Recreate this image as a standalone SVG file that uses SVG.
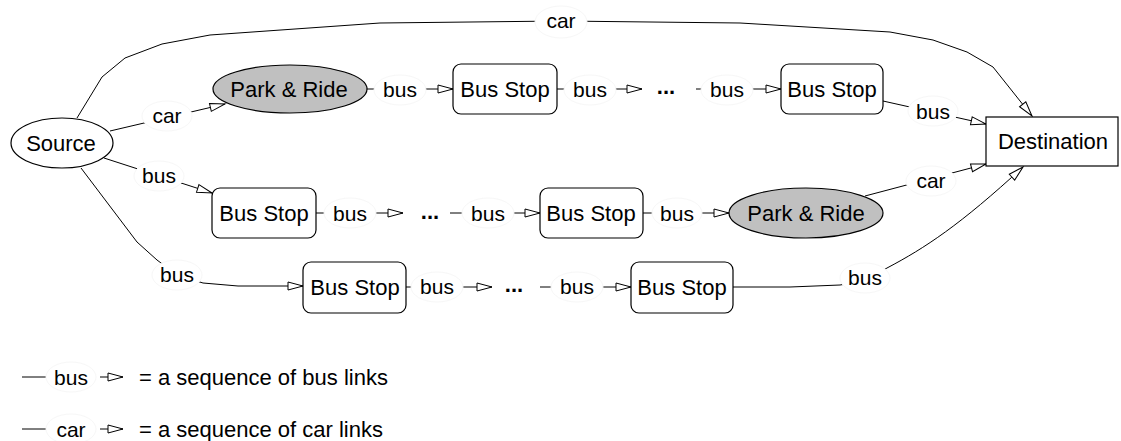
<svg xmlns="http://www.w3.org/2000/svg" width="1121" height="441" viewBox="0 0 1121 441">
<style>
  text { font-family: "Liberation Sans", Arial, sans-serif; fill: #000; }
  .nt { font-size: 22px; text-anchor: middle; }
  .lt { font-size: 21px; text-anchor: middle; }
  .dots { font-size: 22px; font-weight: bold; text-anchor: middle; }
  .leg { font-size: 22px; }
  .node { fill: #fff; stroke: #000; stroke-width: 1.2; }
  .pr { fill: #c0c0c0; stroke: #000; stroke-width: 1.2; }
  .edge { fill: none; stroke: #000; stroke-width: 1; marker-end: url(#arr); }
  .plain { fill: none; stroke: #000; stroke-width: 1; }
  .lbg { fill: #fff; stroke: #f7f7f7; stroke-width: 1; }
</style>
<defs>
  <marker id="arr" markerUnits="userSpaceOnUse" markerWidth="18" markerHeight="12" refX="15" refY="4.5" orient="auto" overflow="visible">
    <path d="M0,0.5 L15,4.5 L0,8.5 Z" fill="#fff" stroke="#000" stroke-width="1"/>
  </marker>
</defs>
<rect width="1121" height="441" fill="#fff"/>

<g id="connectors">
  <path class="edge" d="M77,118 L102,77 L125,58 L162,44 L210,35 L380,23 L561,21 L740,23 L890,32 L933,40 L967,52 L993,67 L1032,116"/>
  <path class="edge" d="M110,131 L225,104"/>
  <path class="edge" d="M367,89 L453,89"/>
  <path class="edge" d="M557,89 L642,89"/>
  <path class="edge" d="M696,89 L781,89"/>
  <path class="edge" d="M883,101 L986,124"/>
  <path class="edge" d="M104,158 L212,193"/>
  <path class="edge" d="M316,213 L403,213"/>
  <path class="edge" d="M450,213 L540,213"/>
  <path class="edge" d="M643,213 L729,213"/>
  <path class="edge" d="M865,196 L986,164"/>
  <path class="edge" d="M81,168 L137,242 L157,260 L177,275 L203,283 L238,286 L303,286"/>
  <path class="edge" d="M406,287 L492,287"/>
  <path class="edge" d="M540,287 L631,287"/>
  <path class="edge" d="M733,287 L790,287 L840,285 L865,281 L887,268 C925,248 960,225 1023,167"/>

  <g id="edge-labels">
    <ellipse class="lbg" cx="561" cy="22" rx="26" ry="16"/><text class="lt" x="561" y="28">car</text>
    <ellipse class="lbg" cx="167" cy="116" rx="25" ry="15"/><text class="lt" x="167" y="123">car</text>
    <ellipse class="lbg" cx="400" cy="90" rx="26" ry="15"/><text class="lt" x="400" y="97">bus</text>
    <ellipse class="lbg" cx="590" cy="90" rx="26" ry="15"/><text class="lt" x="590" y="97">bus</text>
    <ellipse class="lbg" cx="727" cy="90" rx="26" ry="15"/><text class="lt" x="727" y="97">bus</text>
    <ellipse class="lbg" cx="933" cy="111" rx="25" ry="15"/><text class="lt" x="933" y="119">bus</text>
    <ellipse class="lbg" cx="931" cy="181" rx="25" ry="15"/><text class="lt" x="931" y="188">car</text>
    <ellipse class="lbg" cx="159" cy="176" rx="25" ry="15"/><text class="lt" x="159" y="183">bus</text>
    <ellipse class="lbg" cx="350" cy="213" rx="26" ry="15"/><text class="lt" x="350" y="221">bus</text>
    <ellipse class="lbg" cx="488" cy="213" rx="26" ry="15"/><text class="lt" x="488" y="221">bus</text>
    <ellipse class="lbg" cx="677" cy="213" rx="25" ry="15"/><text class="lt" x="677" y="221">bus</text>
    <ellipse class="lbg" cx="177" cy="275" rx="25" ry="15"/><text class="lt" x="177" y="282">bus</text>
    <ellipse class="lbg" cx="437" cy="287" rx="26" ry="15"/><text class="lt" x="437" y="294">bus</text>
    <ellipse class="lbg" cx="577" cy="287" rx="26" ry="15"/><text class="lt" x="577" y="294">bus</text>
    <ellipse class="lbg" cx="865" cy="278" rx="25" ry="15"/><text class="lt" x="865" y="285">bus</text>
    <text class="dots" x="666" y="94">...</text>
    <text class="dots" x="430" y="219">...</text>
    <text class="dots" x="514" y="292">...</text>
  </g>
</g>

<g id="source">
  <ellipse class="node" cx="62" cy="143" rx="51" ry="25"/>
  <text class="nt" x="61" y="151">Source</text>
</g>
<g id="parkride1">
  <ellipse class="pr" cx="290" cy="89" rx="77" ry="24"/>
  <text class="nt" x="289" y="97">Park &amp; Ride</text>
</g>
<g id="busstop1">
  <rect class="node" x="453" y="64" width="104" height="50" rx="8"/>
  <text class="nt" x="505" y="97">Bus Stop</text>
</g>
<g id="busstop2">
  <rect class="node" x="781" y="64" width="102" height="50" rx="8"/>
  <text class="nt" x="832" y="97">Bus Stop</text>
</g>
<g id="destination">
  <rect class="node" x="986" y="117" width="132" height="49"/>
  <text class="nt" x="1053" y="149">Destination</text>
</g>
<g id="busstop3">
  <rect class="node" x="212" y="188" width="104" height="50" rx="8"/>
  <text class="nt" x="264" y="221">Bus Stop</text>
</g>
<g id="busstop4">
  <rect class="node" x="540" y="188" width="103" height="50" rx="8"/>
  <text class="nt" x="591" y="221">Bus Stop</text>
</g>
<g id="parkride2">
  <ellipse class="pr" cx="806" cy="213" rx="77" ry="25"/>
  <text class="nt" x="806" y="221">Park &amp; Ride</text>
</g>
<g id="busstop5">
  <rect class="node" x="303" y="262" width="103" height="51" rx="8"/>
  <text class="nt" x="355" y="295">Bus Stop</text>
</g>
<g id="busstop6">
  <rect class="node" x="631" y="262" width="102" height="51" rx="8"/>
  <text class="nt" x="682" y="295">Bus Stop</text>
</g>

<g id="legend">
  <path class="plain" d="M22,377 L46,377"/>
  <ellipse class="lbg" cx="71" cy="377" rx="25" ry="15"/>
  <text class="lt" x="71" y="385">bus</text>
  <path class="edge" d="M100,377 L123,377"/>
  <text class="leg" x="139" y="385">= a sequence of bus links</text>
  <path class="plain" d="M22,429 L46,429"/>
  <ellipse class="lbg" cx="71" cy="429" rx="25" ry="15"/>
  <text class="lt" x="71" y="437">car</text>
  <path class="edge" d="M100,429 L123,429"/>
  <text class="leg" x="139" y="437">= a sequence of car links</text>
</g>
</svg>
